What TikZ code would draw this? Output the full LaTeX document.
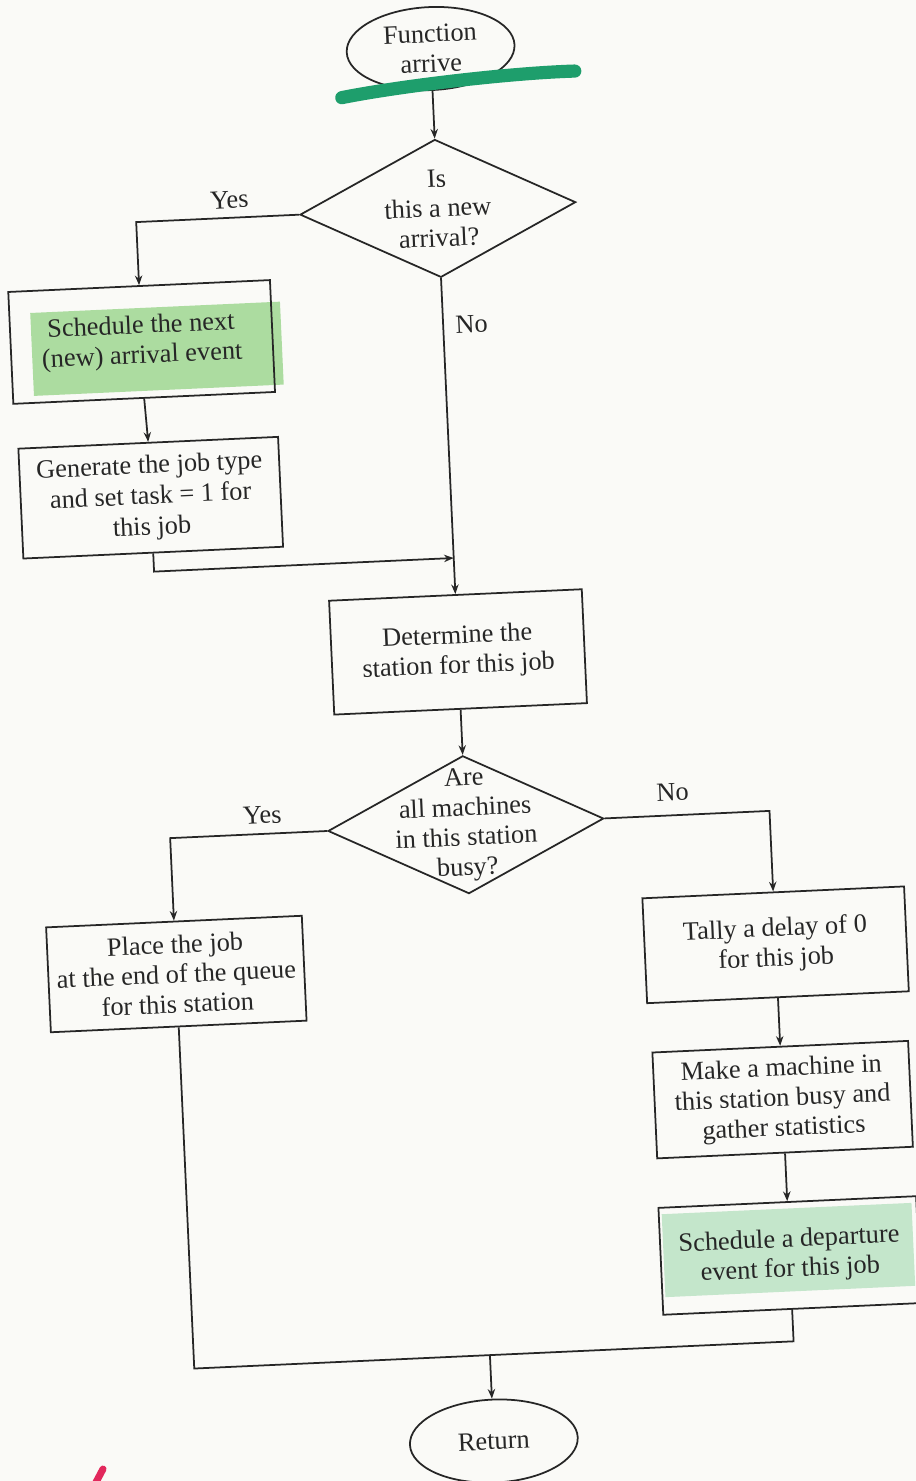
\documentclass[tikz,border=0pt]{standalone}
\usepackage{fontspec}
\setmainfont{Liberation Serif}
\usetikzlibrary{shapes.geometric,arrows.meta}
\definecolor{inkc}{RGB}{38,38,38}
\definecolor{paper}{RGB}{250,250,247}
\definecolor{hlA}{RGB}{172,220,160}
\definecolor{hlB}{RGB}{196,230,203}
\definecolor{marker}{RGB}{30,158,108}
\definecolor{pinkpen}{RGB}{226,40,92}
\newcommand\boxfont{\fontsize{15}{17}\selectfont}
\newcommand\loosefont{\fontsize{15}{17.5}\selectfont}

\begin{document}
\begin{tikzpicture}[x=0.02cm, y=-0.02cm,
  stroke/.style={draw=inkc, line width=1pt},
  procbox/.style={rectangle, stroke, inner sep=0pt, align=center, font=\boxfont, text=inkc},
  term/.style={ellipse, stroke, inner sep=0pt, align=center, font=\boxfont, text=inkc,
               minimum width=3.36cm, minimum height=1.66cm},
  decision/.style={diamond, stroke, inner sep=0pt, minimum width=5.52cm, minimum height=2.76cm},
  txt/.style={inner sep=0pt, align=center, font=\boxfont, text=inkc},
  flow/.style={stroke, -{Stealth[length=5.5pt,width=4.2pt]}}
]
\useasboundingbox (0,0) rectangle (916,1481);
\fill[paper] (0,0) rectangle (916,1481);

\begin{scope}[rotate around={2.6:(458,740)}, transform shape]
  % highlighter patches behind two of the boxes
  \fill[hlA] (50,294) rectangle (300,377);
  \fill[hlB] (640,1223) rectangle (890,1306);

  % terminals
  \node[term] (fn) at (462,48) {Function\\arrive};
  \node[term] (ret) at (462,1442) {Return};

  % decisions (outline and text kept apart so the text may overrun the outline)
  \node[decision] (d1) at (462,208) {};
  \node[txt] (d1t) at (d1.center) {Is\\this a new\\arrival?};
  \node[decision] (d2) at (462,825) {};
  \node[txt] (d2t) at (d2.center) {Are\\all machines\\in this station\\busy?};

  % process boxes
  \node[procbox, minimum width=5.24cm, minimum height=2.24cm] (sched) at (160,328)
        {Schedule the next\\(new) arrival event};
  \node[procbox, font=\loosefont, minimum width=5.20cm, minimum height=2.20cm] (gen) at (162,484)
        {Generate the job type\\and set task = 1 for\\this job};
  \node[procbox, minimum width=5.06cm, minimum height=2.28cm] (det) at (462,652)
        {Determine the\\station for this job};
  \node[procbox, minimum width=5.12cm, minimum height=2.10cm] (place) at (166,961)
        {Place the job\\at the end of the queue\\for this station};
  \node[procbox, minimum width=5.24cm, minimum height=2.10cm] (tally) at (766,959)
        {Tally a delay of 0\\for this job};
  \node[procbox, minimum width=5.12cm, minimum height=2.12cm] (make) at (766,1114)
        {Make a machine in\\this station busy and\\gather statistics};
  \node[procbox, minimum width=5.16cm, minimum height=2.14cm] (dep) at (766,1270)
        {Schedule a departure\\event for this job};

  % branch labels
  \node[txt] (yes1) at (254,190) {Yes};
  \node[txt, anchor=west] (no1) at (474,325) {No};
  \node[txt] (yes2) at (259,806) {Yes};
  \node[txt] (no2) at (670,802) {No};

  % junction points
  \coordinate (j1) at (462,558);
  \coordinate (j2) at (462,1356);

  % connectors
  \draw[flow] (fn.south) -- (d1.north);
  \draw[flow] (d1.west) -| (sched.north);
  \draw[flow] (sched.south) -- (gen.north);
  \draw[flow] (gen.south) |- (j1);
  \draw[flow] (d1.south) -- (det.north);
  \draw[flow] (det.south) -- (d2.north);
  \draw[flow] (d2.west) -| (place.north);
  \draw[flow] (d2.east) -| (tally.north);
  \draw[flow] (tally.south) -- (make.north);
  \draw[flow] (make.south) -- (dep.north);
  \draw[stroke] (place.south) |- (j2);
  \draw[stroke] (dep.south) |- (j2);
  \draw[flow] (j2) -- (ret.north);

  % marker stroke under the title terminal
  \draw[marker, line width=7.5pt, line cap=round]
    (371,93) .. controls (430,84) and (540,76) .. (605,77);
\end{scope}

% pen mark at the lower left edge
\draw[pinkpen, line width=4pt, line cap=round] (94,1486) -- (103,1469);
\end{tikzpicture}
\end{document}
